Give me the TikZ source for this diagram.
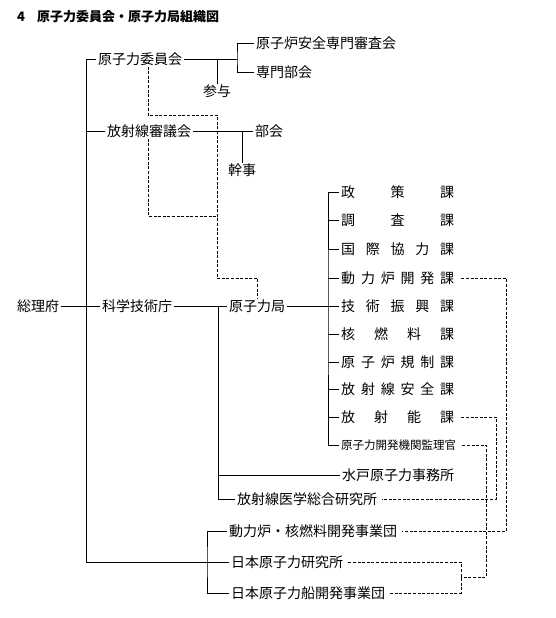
\documentclass[tikz,border=0pt]{standalone}
\usepackage{fontspec}
\setmainfont{Noto Sans CJK JP}
\newcommand{\kaspread}[1]{\makebox[113pt]{#1}}
\begin{document}
\begin{tikzpicture}[
  x=1pt, y=-1pt,
  org/.style={inner xsep=2pt, inner ysep=1pt, anchor=west, font=\fontsize{14pt}{16pt}\selectfont},
  smallorg/.style={org, font=\fontsize{11.5pt}{13pt}\selectfont},
  link/.style={line width=0.9pt},
  dashlink/.style={line width=0.8pt, dash pattern=on 3pt off 1.6pt}
]
\useasboundingbox (0,0) rectangle (555,618);
\node[org, font=\fontsize{13pt}{15pt}\selectfont\bfseries] (title) at (15,17) {4\hspace{12pt}原子力委員会・原子力局組織図};
% 本体
\node[org] (sori)      at (15,306)  {総理府};
\node[org] (kagaku)    at (100,306) {科学技術庁};
\node[org] (kyoku)     at (227,306) {原子力局};
\node[org] (iinkai)    at (96,59)   {原子力委員会};
\node[org] (shinsa)    at (254,43)  {原子炉安全専門審査会};
\node[org] (senmon)    at (254,72)  {専門部会};
\node[org, anchor=north] (sanyo) at (217,84) {参与};
\node[org] (shingikai) at (105,131) {放射線審議会};
\node[org] (bukai)     at (253,131) {部会};
\node[org, anchor=north] (kanji) at (242,163) {幹事};
% 課
\node[org] (seisaku) at (339,192) {\kaspread{政\hfill 策\hfill 課}};
\node[org] (chosa)   at (339,220) {\kaspread{調\hfill 査\hfill 課}};
\node[org] (kokusai) at (339,249) {\kaspread{国\hfill 際\hfill 協\hfill 力\hfill 課}};
\node[org] (doryoku) at (339,278) {\kaspread{動\hfill 力\hfill 炉\hfill 開\hfill 発\hfill 課}};
\node[org] (gijutsu) at (339,306) {\kaspread{技\hfill 術\hfill 振\hfill 興\hfill 課}};
\node[org] (kaku)    at (339,334) {\kaspread{核\hfill 燃\hfill 料\hfill 課}};
\node[org] (kisei)   at (339,362) {\kaspread{原\hfill 子\hfill 炉\hfill 規\hfill 制\hfill 課}};
\node[org] (anzen)   at (339,389) {\kaspread{放\hfill 射\hfill 線\hfill 安\hfill 全\hfill 課}};
\node[org] (hoshano) at (339,417) {\kaspread{放\hfill 射\hfill 能\hfill 課}};
\node[smallorg] (kanri) at (339,445) {原子力開発機関監理官};
% 附属機関・法人
\node[org] (mito)      at (340,475) {水戸原子力事務所};
\node[org] (hoiken)    at (235,499) {放射線医学総合研究所};
\node[org] (doryokuro) at (227,531) {動力炉・核燃料開発事業団};
\node[org] (genken)    at (229,562) {日本原子力研究所};
\node[org] (senpaku)   at (229,593) {日本原子力船開発事業団};
\coordinate (trunktop) at (86,59);
\coordinate (trunkbot) at (86,562);
\coordinate (iinbr)    at (237,59);
\coordinate (kabr)     at (328,306);
\coordinate (kabranch) at (218,306);
\coordinate (hojin)    at (207,562);
% 実線
\draw[link] (iinkai.west) -- (trunktop) -- (trunkbot) -- (genken.west);
\draw[link] (trunktop |- shingikai.west) -- (shingikai.west);
\draw[link] (sori) -- (kagaku);
\draw[link] (kagaku) -- (kyoku);
\draw[link] (iinkai.east) -- (iinbr);
\draw[link] (shinsa.west) -| (iinbr) |- (senmon.west);
\draw[link] (sanyo.north) -- (sanyo.north |- iinkai.east);
\draw[link] (shingikai) -- (bukai);
\draw[link] (kanji.north) -- (kanji.north |- shingikai.east);
\draw[link] (kyoku) -- (kabr);
\draw[link] (seisaku.west) -| (kabr) |- (kanri.west);
\foreach \k in {chosa,kokusai,doryoku,gijutsu,kaku,kisei,anzen,hoshano}
  \draw[link] (\k.west) -- (\k.west -| kabr);
\draw[link] (kabranch) |- (hoiken.west);
\draw[link] (kabranch |- mito.west) -- (mito.west);
\draw[link] (doryokuro.west) -| (hojin) |- (senpaku.west);
% 破線
\coordinate (dtop) at (217,115);
\coordinate (dmid) at (217,216);
\coordinate (dlow) at (217,278);
\coordinate (dr1)  at (506,278);
\coordinate (dr2)  at (496,417);
\coordinate (dr3)  at (486,445);
\coordinate (dr4)  at (461,577);
\draw[dashlink] ([xshift=52pt]iinkai.south west) |- (dtop) -- (dlow) -| (kyoku.north);
\draw[dashlink] ([xshift=43pt]shingikai.south west) |- (dmid);
\draw[dashlink] ([xshift=5pt]doryoku.east) -- (dr1) |- ([xshift=3pt]doryokuro.east);
\draw[dashlink] ([xshift=5pt]hoshano.east) -- (dr2) |- ([xshift=3pt]hoiken.east);
\draw[dashlink] ([xshift=4pt]kanri.east) -- (dr3) |- (dr4);
\draw[dashlink] ([xshift=3pt]genken.east) -| (dr4) |- ([xshift=2pt]senpaku.east);
\end{tikzpicture}
\end{document}
